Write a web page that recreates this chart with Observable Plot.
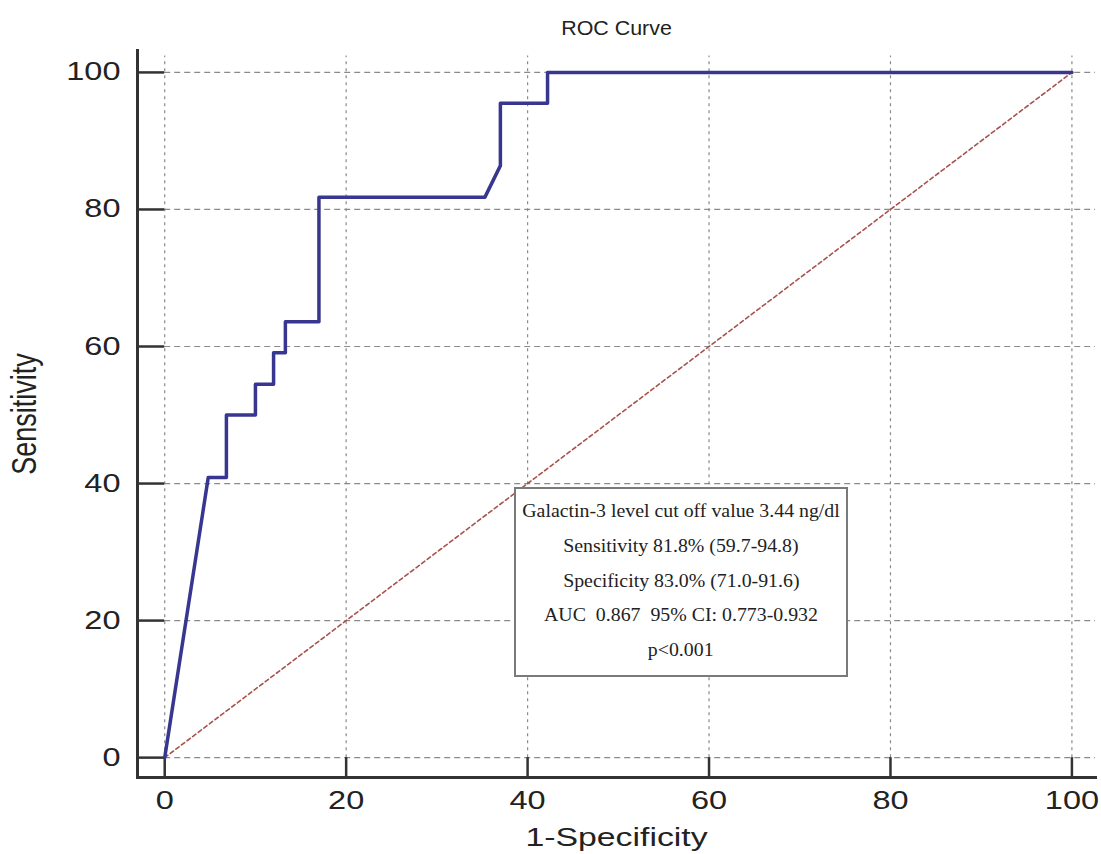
<!DOCTYPE html>
<html>
<head>
<meta charset="utf-8">
<script src="https://cdn.jsdelivr.net/npm/d3@7"></script>
<script src="https://cdn.jsdelivr.net/npm/@observablehq/plot@0.6"></script>
<style>
  html, body { margin: 0; padding: 0; background: #fff; }
  #wrap { position: relative; width: 1101px; height: 854px; }
  #legend {
    position: absolute; left: 514px; top: 487px; width: 330px; height: 181px;
    border: 2px solid #7a7a7a; background: #fff;
    font-family: "Liberation Serif", "Times New Roman", serif; font-size: 15.5px; color: #222;
    text-align: center; box-sizing: content-box; padding-top: 5px;
  }
  #legend div { height: 34.8px; line-height: 34.8px; white-space: pre; }
  #legend span { display: inline-block; transform: scale(1.28, 1.28); transform-origin: center; }
</style>
</head>
<body>
<div id="wrap"></div>
<script>
// ROC curve points (1-Specificity %, Sensitivity %)
const rocX = [0, 4.8, 6.8, 6.8, 10.0, 10.0, 12.0, 12.0, 13.3, 13.3, 17.0, 17.0, 35.3, 37.0, 37.0, 42.2, 42.2, 100];
const rocY = [0, 40.9, 40.9, 50.0, 50.0, 54.5, 54.5, 59.1, 59.1, 63.6, 63.6, 81.8, 81.8, 86.4, 95.5, 95.5, 100, 100];
// reference diagonal
const diagX = [0, 100];
const diagY = [0, 100];
// ticks
const xTicks = [0, 20, 40, 60, 80, 100];
const yTicks = [0, 20, 40, 60, 80, 100];
// texts
const titleText = "ROC Curve";
const xLabel = "1-Specificity";
const yLabel = "Sensitivity";
const legendLines = [
  "Galactin-3 level cut off value 3.44 ng/dl",
  "Sensitivity 81.8% (59.7-94.8)",
  "Specificity 83.0% (71.0-91.6)",
  "AUC  0.867  95% CI: 0.773-0.932",
  "p<0.001"
];

const xDomain = [-3.0, 102.6];
const yDomain = [-2.9, 103.2];

const roc = rocX.map((x, i) => ({x, y: rocY[i]}));
const diag = diagX.map((x, i) => ({x, y: diagY[i]}));

const sans = "'Liberation Sans', Arial, sans-serif";

const chart = Plot.plot({
  width: 1101,
  height: 854,
  marginLeft: 137,
  marginRight: 6,
  marginTop: 50,
  marginBottom: 77,
  style: {fontFamily: sans, fontSize: "25px", color: "#222", background: "#fff"},
  x: {domain: xDomain},
  y: {domain: yDomain},
  marks: [
    // grid
    Plot.ruleY(yTicks, {x1: 0, x2: xDomain[1], stroke: "#8a8a8a", strokeWidth: 1.2, strokeDasharray: "6,4"}),
    Plot.ruleX(xTicks, {y1: 0, y2: 102.4, stroke: "#8a8a8a", strokeWidth: 1.2, strokeDasharray: "3,4"}),
    // inner tick marks
    Plot.ruleY(yTicks, {x1: xDomain[0], x2: 0, stroke: "#333", strokeWidth: 2.5}),
    Plot.ruleX(xTicks, {y1: yDomain[0], y2: 0, stroke: "#333", strokeWidth: 2.5}),
    // axis lines
    Plot.frame({anchor: "left", stroke: "#333", strokeWidth: 3}),
    Plot.frame({anchor: "bottom", stroke: "#333", strokeWidth: 3}),
    // tick labels
    Plot.axisX(xTicks, {tickSize: 0, tickPadding: 14, fontSize: 25, label: null}),
    Plot.axisY(yTicks, {tickSize: 0, tickPadding: 17, fontSize: 25, label: null}),
    // diagonal
    Plot.line(diag, {x: "x", y: "y", stroke: "#a8524c", strokeWidth: 1.6, strokeDasharray: "4,3"}),
    // ROC curve
    Plot.line(roc, {x: "x", y: "y", stroke: "#38378f", strokeWidth: 3.5, curve: "linear"}),
    // title and axis labels
    Plot.text([titleText], {frameAnchor: "top", dy: -30, fontSize: 21, fill: "#222", textAnchor: "middle"}),
    Plot.text([xLabel], {frameAnchor: "bottom", dy: 68, fontSize: 26, fill: "#222", textAnchor: "middle"}),
    Plot.text([yLabel], {frameAnchor: "left", dx: -113, rotate: -90, fontSize: 27, fill: "#222", textAnchor: "middle"})
  ]
});

const wrap = document.getElementById("wrap");
wrap.appendChild(chart);

// widen the glyphs horizontally (on screen), as in the reference picture
chart.querySelectorAll("text").forEach(t => {
  const SX = t.textContent === titleText ? 1.02 : 1.3;
  const tr = t.getAttribute("transform");
  const rotated = tr && tr.includes("rotate");
  const sc = rotated ? ` scale(1,${SX})` : ` scale(${SX},1)`;
  if (tr) {
    t.setAttribute("transform", tr + sc);
  } else {
    const x = +(t.getAttribute("x") || 0), y = +(t.getAttribute("y") || 0);
    t.setAttribute("transform", `translate(${x},${y})${sc} translate(${-x},${-y})`);
  }
});

const legend = document.createElement("div");
legend.id = "legend";
legendLines.forEach(t => {
  const d = document.createElement("div");
  const s = document.createElement("span");
  s.textContent = t;
  d.appendChild(s);
  legend.appendChild(d);
});
wrap.appendChild(legend);
</script>
</body>
</html>
